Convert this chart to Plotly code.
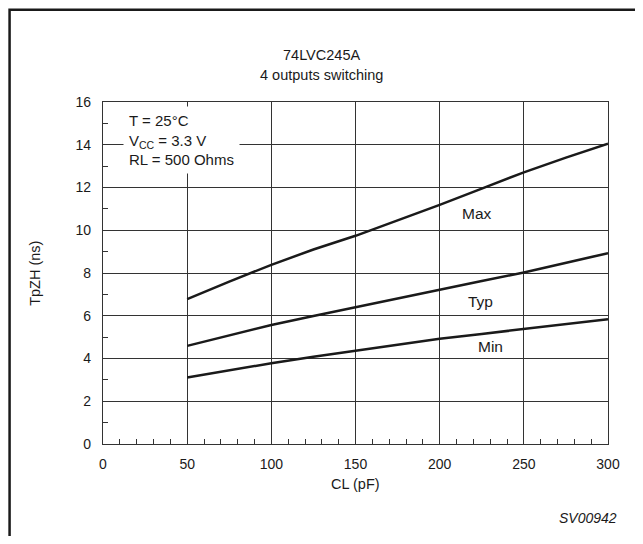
import plotly.graph_objects as go

# load capacitance (pF)
cl_pf = [50, 75, 100, 125, 150, 175, 200, 225, 250, 275, 300]

# TpZH (ns)
tpzh_max = [6.78, 7.6, 8.38, 9.1, 9.74, 10.45, 11.19, 11.95, 12.71, 13.4, 14.05]
tpzh_typ = [4.59, 5.08, 5.57, 5.99, 6.40, 6.83, 7.25, 7.63, 8.02, 8.46, 8.93]
tpzh_min = [3.11, 3.45, 3.78, 4.08, 4.37, 4.65, 4.92, 5.15, 5.37, 5.60, 5.84]

curve_labels = ["Max", "Typ", "Min"]
label_x = [222, 224, 230]
label_y = [10.8, 6.67, 4.56]

x_ticks = [0, 50, 100, 150, 200, 250, 300]
y_ticks = [0, 2, 4, 6, 8, 10, 12, 14, 16]

FONT = "Liberation Sans, Arial, sans-serif"
INK = "#1a1a1a"

fig = go.Figure()
for ys in [tpzh_max, tpzh_typ, tpzh_min]:
    fig.add_trace(go.Scatter(
        x=cl_pf, y=ys, mode="lines",
        line=dict(color=INK, width=2.5),
        showlegend=False, hoverinfo="skip"
    ))

for name, lx, ly in zip(curve_labels, label_x, label_y):
    fig.add_annotation(x=lx, y=ly, xref="x", yref="y", text=name,
                       showarrow=False, font=dict(size=15.5, color=INK))

# conditions box (white background hides the grid behind it)
fig.add_annotation(
    x=12, y=15.8, xref="x", yref="y", xanchor="left", yanchor="top",
    text="T = 25°C<br>V<sub>CC</sub> = 3.3 V<br>RL = 500 Ohms",
    align="left", showarrow=False, bgcolor="white", borderpad=5,
    font=dict(size=15, color=INK)
)

# titles placed by hand, as in the datasheet
def note(x, y, text, size, angle=0, xanchor="center"):
    fig.add_annotation(x=x, y=y, xref="paper", yref="paper", text=text,
                       xanchor=xanchor, yanchor="middle", textangle=angle,
                       showarrow=False, font=dict(size=size, color=INK))

note(0.433, 1.137, "74LVC245A", 14.5)
note(0.433, 1.079, "4 outputs switching", 14.5)
note(0.5, -0.117, "CL (pF)", 14.5)
note(-0.135, 0.5, "TpZH (ns)", 14.5, angle=-90)
note(1.022, -0.216, "<i>SV00942</i>", 14, xanchor="right")

# outer frame
fig.add_shape(type="rect", xref="paper", yref="paper",
              x0=-0.185, x1=1.1, y0=-0.35, y1=1.270,
              line=dict(color=INK, width=2.5), fillcolor="rgba(0,0,0,0)")

axis_common = dict(
    showline=True, mirror=True, linecolor="#333", linewidth=1.2,
    showgrid=True, gridcolor="#333", gridwidth=1.2,
    ticks="inside", ticklen=12, tickcolor="#333", tickwidth=1.2,
    zeroline=False, tickfont=dict(size=14, color=INK, family=FONT),
)

fig.update_xaxes(range=[0, 300], tickvals=x_ticks, ticklabelstandoff=7,
                 minor=dict(dtick=10, ticks="inside", ticklen=5, tickcolor="#333", showgrid=False),
                 **axis_common)
fig.update_yaxes(range=[0, 16], tickvals=y_ticks, ticklabelstandoff=8,
                 minor=dict(dtick=1, ticks="inside", ticklen=5, tickcolor="#333", showgrid=False),
                 **axis_common)

fig.update_layout(
    width=627, height=528,
    margin=dict(l=95, r=27, t=94, b=92),
    plot_bgcolor="white", paper_bgcolor="white",
    font=dict(family=FONT, color=INK),
)

fig.write_html("out.html")
